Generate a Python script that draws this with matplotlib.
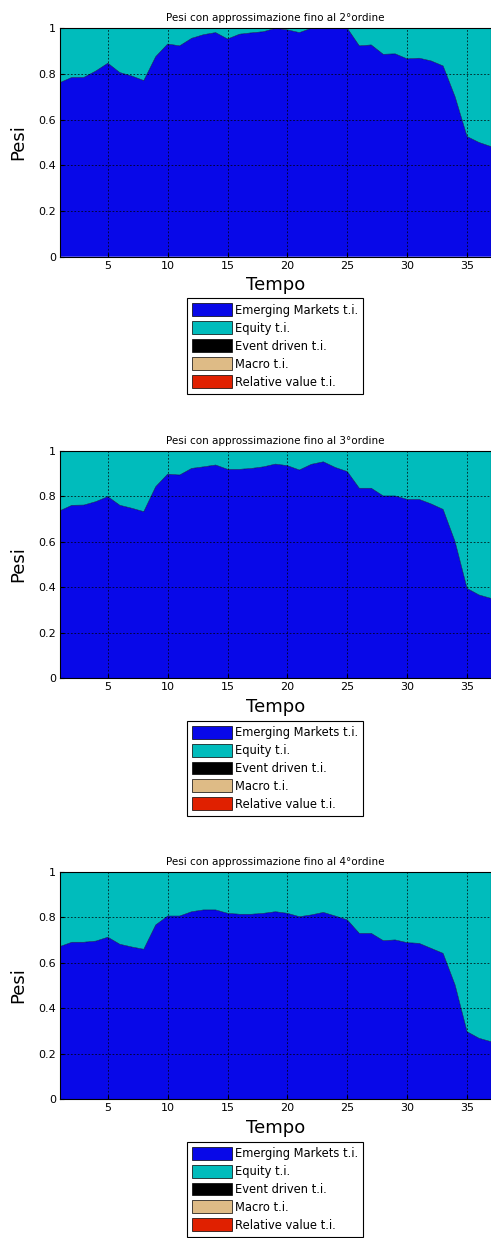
import numpy as np
import matplotlib
matplotlib.use("Agg")
import matplotlib.pyplot as plt
from matplotlib.ticker import FixedLocator, FuncFormatter

# time axis
tempo = np.arange(1, 38)

# Emerging Markets weights, one per approximation order
em_2 = [0.762, 0.785, 0.785, 0.813, 0.847, 0.806, 0.791, 0.771, 0.876, 0.931,
        0.923, 0.956, 0.972, 0.981, 0.953, 0.974, 0.980, 0.985, 1.000, 0.993,
        0.981, 1.000, 1.000, 1.000, 1.000, 0.923, 0.927, 0.886, 0.888, 0.866,
        0.869, 0.857, 0.835, 0.700, 0.526, 0.500, 0.482]
em_3 = [0.736, 0.760, 0.761, 0.776, 0.798, 0.760, 0.747, 0.732, 0.842, 0.897,
        0.893, 0.922, 0.929, 0.937, 0.918, 0.918, 0.922, 0.929, 0.941, 0.934,
        0.915, 0.940, 0.951, 0.926, 0.908, 0.835, 0.835, 0.801, 0.801, 0.786,
        0.786, 0.766, 0.742, 0.600, 0.395, 0.366, 0.351]
em_4 = [0.671, 0.690, 0.690, 0.695, 0.712, 0.681, 0.669, 0.659, 0.766, 0.805,
        0.805, 0.824, 0.832, 0.832, 0.817, 0.813, 0.813, 0.817, 0.824, 0.817,
        0.802, 0.810, 0.821, 0.805, 0.788, 0.729, 0.729, 0.697, 0.700, 0.688,
        0.685, 0.663, 0.641, 0.502, 0.297, 0.268, 0.253]

labels = ["Emerging Markets t.i.", "Equity t.i.", "Event driven t.i.",
          "Macro t.i.", "Relative value t.i."]
colors = ["#0808E8", "#00BCBC", "#000000", "#DEBB86", "#E02000"]
titles = ["Pesi con approssimazione fino al 2°ordine",
          "Pesi con approssimazione fino al 3°ordine",
          "Pesi con approssimazione fino al 4°ordine"]

fig = plt.figure(figsize=(4.91, 12.38), dpi=100)
W, H = 491.0, 1238.0

# axes boxes in pixels: (top, bottom) ; legend top in pixels
boxes = [(28.3, 256.7, 298.3), (450.7, 678.3, 720.5), (871.7, 1099.3, 1141.5)]

for em, title, (top, bot, legtop) in zip([em_2, em_3, em_4], titles, boxes):
    em = np.array(em)
    eq = 1 - em
    zero = np.zeros_like(em)
    ax = fig.add_axes([60 / W, 1 - bot / H, 1 - 60 / W, (bot - top) / H])
    polys = ax.stackplot(tempo, em, eq, zero, zero, zero, colors=colors,
                         labels=labels)
    for p in polys:
        p.set_edgecolor("none")
        p.set_linewidth(0)
    ax.plot(tempo, em, color="#000050", lw=0.4)
    ax.set_xlim(1, 37)
    ax.set_ylim(0, 1)
    ax.xaxis.set_major_locator(FixedLocator([5, 10, 15, 20, 25, 30, 35]))
    ax.yaxis.set_major_locator(FixedLocator([0, 0.2, 0.4, 0.6, 0.8, 1]))
    ax.yaxis.set_major_formatter(FuncFormatter(lambda v, p: "%g" % round(v, 1)))
    ax.tick_params(direction="in", length=3, labelsize=8, pad=3)
    ax.set_axisbelow(False)
    ax.grid(True, color="black", linestyle=(0, (2.5, 2.5)), linewidth=0.5)
    ax.set_title(title, fontsize=7.5, pad=5)
    ax.set_ylabel("Pesi", fontsize=13, labelpad=8)
    ax.set_xlabel("Tempo", fontsize=13, labelpad=4)
    for s in ax.spines.values():
        s.set_linewidth(0.8)
    leg = fig.legend(polys, labels, loc="upper left",
                     bbox_to_anchor=(186.7 / W, 1 - legtop / H),
                     bbox_transform=fig.transFigure, fontsize=8.3,
                     frameon=True, fancybox=False, edgecolor="black",
                     framealpha=1, handlelength=3.5, handleheight=1.35,
                     handletextpad=0.25, labelspacing=0.4, borderpad=0.45,
                     borderaxespad=0)
    leg.get_frame().set_linewidth(0.8)
    for h in leg.legend_handles:
        h.set_edgecolor("black")
        h.set_linewidth(0.5)

fig.savefig("out.png", dpi=100)
